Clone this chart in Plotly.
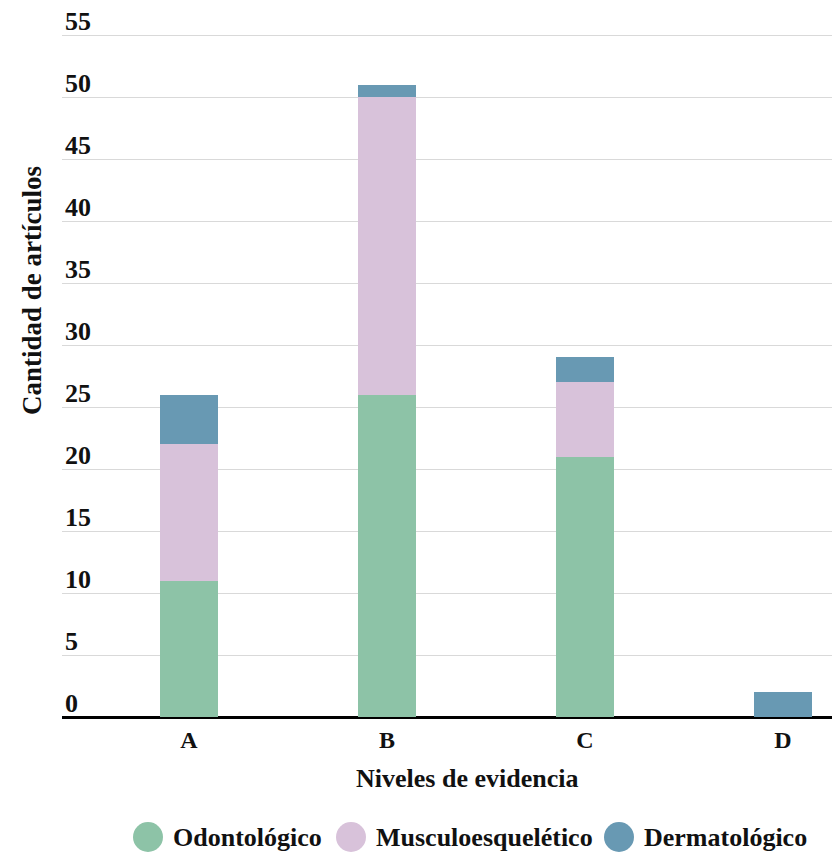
import plotly.graph_objects as go

categories = ["A", "B", "C", "D"]
series_names = ["Odontológico", "Musculoesquelético", "Dermatológico"]
odontologico = [11, 26, 21, 0]
musculoesqueletico = [11, 24, 6, 0]
dermatologico = [4, 1, 2, 2]
colors = ["#8dc3a7", "#d8c2da", "#6899b3"]
y_ticks = [0, 5, 10, 15, 20, 25, 30, 35, 40, 45, 50, 55]

FONT = "Liberation Serif, Times New Roman, serif"

# page body has an 8px margin: figure coords = screen coords - 8
OFF = 8
W, H = 832, 848
PL, PR, PT, PB = 62 - OFF, 832 - OFF, 0, 717 - OFF
PW, PH = PR - PL, PB - PT
PX_PER_UNIT = (717 - 35) / 55.0
Y_TOP = 55 + (35 - OFF - PT) / PX_PER_UNIT

fig = go.Figure()
for name, vals, col in zip(series_names, [odontologico, musculoesqueletico, dermatologico], colors):
    fig.add_trace(go.Bar(
        x=categories, y=vals, name=name, width=0.293,
        marker=dict(color=col, line=dict(width=0)),
        showlegend=False,
    ))

fig.update_layout(
    barmode="stack",
    width=W, height=H,
    margin=dict(l=PL, r=W - PR, t=PT, b=H - PB, autoexpand=False),
    plot_bgcolor="white", paper_bgcolor="white",
    showlegend=False,
    font=dict(family=FONT, size=26, color="#111", weight="bold"),
    xaxis=dict(
        range=[-0.6414, 3.2475], showgrid=False, ticks="", automargin=False,
        ticklabelstandoff=6,
        tickfont=dict(family=FONT, size=24, color="#111", weight="bold"),
        showline=False,
    ),
    yaxis=dict(
        range=[0, Y_TOP], tickvals=y_ticks, showgrid=True, gridcolor="#d9d9d9", gridwidth=1,
        zeroline=True, zerolinecolor="#000", zerolinewidth=2.5, automargin=False,
        ticklabelposition="inside top", ticks="", ticklabelstandoff=0, ticklabelshift=4,
        ticklabeloverflow="allow",
        tickfont=dict(family=FONT, size=26, color="#111", weight="bold"),
    ),
)

def px_x(x):
    return (x - OFF - PL) / PW

def px_y(y):
    return (PB - (y - OFF)) / PH

# axis titles
fig.add_annotation(text="Cantidad de artículos", textangle=-90, xref="paper", yref="paper",
                   x=px_x(32), y=px_y(291), showarrow=False, xanchor="center", yanchor="middle",
                   font=dict(family=FONT, size=27, color="#111", weight="bold"))
fig.add_annotation(text="Niveles de evidencia", xref="paper", yref="paper",
                   x=px_x(467), y=px_y(778), showarrow=False,
                   xanchor="center", yanchor="middle",
                   font=dict(family=FONT, size=26, color="#111", weight="bold"))

# custom legend with circles
legend_cx = [148, 351, 619]
legend_cy = 837
for name, col, cx in zip(series_names, colors, legend_cx):
    xp = px_x(cx)
    yp = px_y(legend_cy)
    fig.add_shape(type="circle", xref="paper", yref="paper", xsizemode="pixel", ysizemode="pixel",
                  xanchor=xp, yanchor=yp, x0=-15, x1=15, y0=-15, y1=15,
                  fillcolor=col, line=dict(width=0))
    fig.add_annotation(text=name, xref="paper", yref="paper", x=px_x(cx + 23), y=yp,
                       showarrow=False, xanchor="left", yanchor="middle",
                       font=dict(family=FONT, size=26, color="#111", weight="bold"))

fig.write_html("out.html")
